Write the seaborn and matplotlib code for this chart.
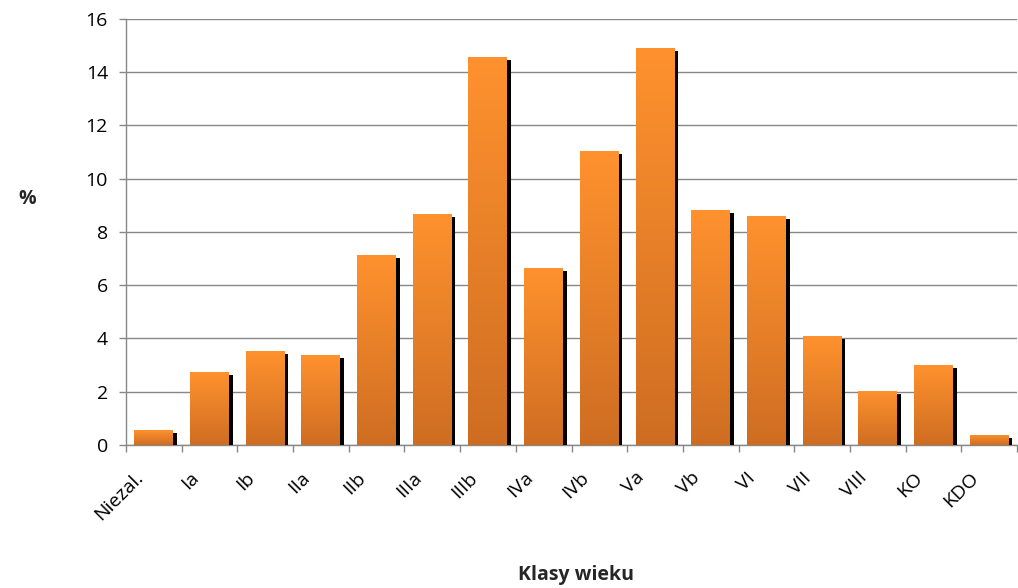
import numpy as np
import pandas as pd
import matplotlib
matplotlib.use("Agg")
import matplotlib.pyplot as plt
import matplotlib.patheffects as pe
from matplotlib.colors import LinearSegmentedColormap
from matplotlib.transforms import ScaledTranslation
import seaborn as sns

# Age classes and their share (%)
classes = ["Niezal.", "Ia", "Ib", "IIa", "IIb", "IIIa", "IIIb", "IVa", "IVb",
           "Va", "Vb", "VI", "VII", "VIII", "KO", "KDO"]
shares = [0.56, 2.74, 3.53, 3.38, 7.14, 8.68, 14.58, 6.65, 11.05,
          14.92, 8.83, 8.60, 4.10, 2.03, 3.00, 0.38]
y_ticks = [0, 2, 4, 6, 8, 10, 12, 14, 16]

df = pd.DataFrame({"klasa": classes, "udzial": shares})

sns.set_theme(style="white")
plt.rcParams["font.family"] = ["Open Sans", "DejaVu Sans"]

fig = plt.figure(figsize=(10.18, 5.88), dpi=100)
ax = fig.add_axes([0.1238, 0.2432, 0.8752, 0.7245])

sns.barplot(data=df, x="klasa", y="udzial", color="#F28A2B", width=0.70,
            saturation=1, linewidth=0, ax=ax, zorder=3)

# Vertical orange gradient inside each bar, with a black drop shadow
grad_cmap = LinearSegmentedColormap.from_list("bar_grad", ["#CE6D22", "#FF922E"])
gradient = np.linspace(0, 1, 256).reshape(-1, 1)
for patch in ax.patches:
    patch.set_path_effects([
        pe.SimplePatchShadow(offset=(2.6, -2.0), shadow_rgbFace="black", alpha=1.0),
        pe.Normal(),
    ])
    x0, y0 = patch.get_x(), patch.get_y()
    w, h = patch.get_width(), patch.get_height()
    im = ax.imshow(gradient, cmap=grad_cmap, aspect="auto", origin="lower",
                   extent=(x0, x0 + w, y0, y0 + h), zorder=4,
                   interpolation="bilinear")
    im.set_clip_path(patch)

ax.set_xlim(-0.5, len(classes) - 0.5)
ax.set_ylim(0, 16)
ax.set_yticks(y_ticks)
ax.yaxis.grid(True, color="#878787", linewidth=1.0, zorder=0)
ax.set_axisbelow(True)

for side in ["top", "right"]:
    ax.spines[side].set_visible(False)
for side in ["left", "bottom"]:
    ax.spines[side].set_color("#878787")
    ax.spines[side].set_linewidth(1.0)

ax.tick_params(axis="y", which="major", direction="out", length=5, width=1,
               color="#878787", labelsize=14, labelcolor="black", pad=8, left=True)
ax.set_xticks(range(len(classes)))
ax.set_xticklabels(classes, rotation=45, ha="right", rotation_mode="anchor")
ax.tick_params(axis="x", which="major", length=0, labelsize=14,
               labelcolor="black", pad=17)
shift = ScaledTranslation(-20 / 100, 0, fig.dpi_scale_trans)
for lbl in ax.get_xticklabels():
    lbl.set_transform(lbl.get_transform() + shift)
ax.set_xticks(np.arange(-0.5, len(classes), 1.0), minor=True)
ax.tick_params(axis="x", which="minor", direction="out", length=5, width=1,
               color="#878787", bottom=True)

ax.set_xlabel("")
ax.set_ylabel("")
fig.text(0.018, 0.661, "%", fontsize=14, fontweight="bold", ha="left", va="center")
fig.text(0.566, 0.022, "Klasy wieku", fontsize=14, fontweight="bold",
         ha="center", va="center")

fig.savefig("out.png", dpi=100, facecolor="white")
